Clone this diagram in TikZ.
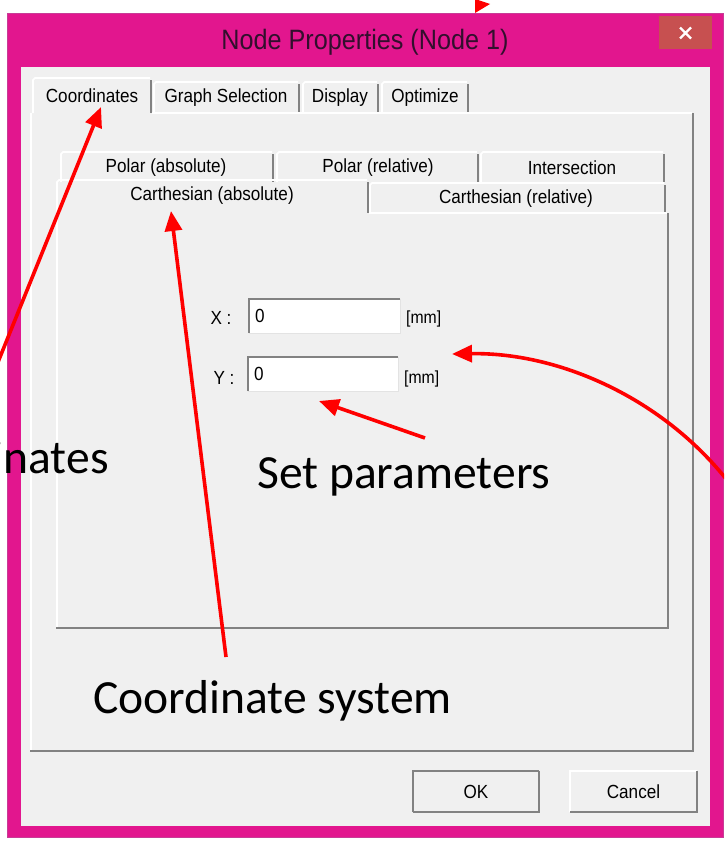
\documentclass[tikz,border=0pt]{standalone}
\usepackage{fontspec}
\usetikzlibrary{arrows.meta}
\newfontfamily\uifont[FakeStretch=0.9]{Liberation Sans}
\newfontfamily\notefont{Carlito}
\definecolor{framepink}{RGB}{226,22,142}
\definecolor{framepinkedge}{RGB}{200,60,150}
\definecolor{dlgbg}{RGB}{240,240,240}
\definecolor{closered}{RGB}{199,80,80}
\definecolor{shadowgray}{RGB}{130,130,130}
\definecolor{lightedge}{RGB}{227,227,227}
\definecolor{titleink}{RGB}{50,15,45}
\definecolor{noteRed}{RGB}{255,0,0}
\tikzset{
  hl/.style={white, line width=1.6pt},
  sh/.style={shadowgray, line width=2.4pt},
  uitext/.style={inner sep=0pt, font=\uifont\fontsize{19}{22}\selectfont, text=black},
  notetext/.style={inner sep=0pt, anchor=base west, font=\notefont\fontsize{47.6}{56}\selectfont, text=black},
  fieldbox/.style={fill=white, draw=none, inner sep=0pt},
  btnbox/.style={fill=dlgbg, inner sep=0pt},
  callout/.style={noteRed, line width=3.6pt, -{Triangle[length=20pt, width=17pt]}},
}
\begin{document}
\begin{tikzpicture}[x=1pt, y=-1pt]
\useasboundingbox (0,0) rectangle (724,846);
\clip (0,0) rectangle (724,846);
\fill[white] (0,0) rectangle (724,846);

% window frame and client area
\fill[framepink, draw=framepinkedge, line width=1pt] (7,13) rectangle (723,837);
\fill[dlgbg] (21,67) rectangle (710,826);

% title bar
\node[inner sep=0pt, text=titleink, font=\uifont\fontsize{28}{32}\selectfont] (title) at (365,42) {Node Properties (Node 1)};
\node[fill=closered, minimum width=53pt, minimum height=33pt, inner sep=0pt] (close) at (685.5,32.5) {};
\draw[white, line width=2.2pt] (680,27.5) -- (691,38.5) (680,38.5) -- (691,27.5);

% ---------- outer tab control ----------
% tabs: Graph Selection, Display, Optimize
\foreach \a/\b in {153/300, 302/379, 381/469}{
  \draw[hl] (\a+1,113) -- (\a+1,84) -- (\a+3,82) -- (\b-2,82);
  \draw[sh] (\b-1,84) -- (\b-1,113);
}
% selected tab: Coordinates
\draw[hl] (33,113) -- (33,80) -- (35,78) -- (150,78);
\draw[sh] (151,80) -- (151,113);
% page
\draw[hl] (152,113) -- (692,113);
\draw[hl] (31,113) -- (31,750);
\draw[sh] (693,113) -- (693,751) -- (30,751);

\node[uitext] (tabCoord) at (92,96) {Coordinates};
\node[uitext] (tabGraph) at (226,98) {Graph Selection};
\node[uitext] (tabDisp) at (340,98) {Display};
\node[uitext] (tabOpt) at (425,98) {Optimize};

% ---------- inner tab control ----------
% back row
\foreach \a/\b in {60/274, 276/479, 480/665}{
  \draw[hl] (\a+1,182) -- (\a+1,154) -- (\a+3,152) -- (\b-2,152);
  \draw[sh] (\b-1,154) -- (\b-1,182);
}
% front row: Carthesian (relative)
\draw[hl] (370,213) -- (370,185) -- (372,183) -- (664,183);
\draw[sh] (665,185) -- (665,213);
% selected: Carthesian (absolute)
\draw[hl] (57,213) -- (57,182) -- (59,180) -- (367,180);
\draw[sh] (368,182) -- (368,213);
% page
\draw[hl] (369,213) -- (667,213);
\draw[hl] (57,213) -- (57,627);
\draw[sh] (668,213) -- (668,628) -- (56,628);

\node[uitext] (tPolA) at (166,168) {Polar (absolute)};
\node[uitext] (tPolR) at (378,168) {Polar (relative)};
\node[uitext] (tInt) at (572,168) {Intersection};
\node[uitext] (tCarA) at (212,196) {Carthesian (absolute)};
\node[uitext] (tCarR) at (516,199) {Carthesian (relative)};

% ---------- coordinate fields ----------
\node[fieldbox, minimum width=151pt, minimum height=34pt] (fx) at (324.5,316) {};
\node[fieldbox, minimum width=150pt, minimum height=34pt] (fy) at (323,374) {};
\foreach \f in {fx, fy}{
  \draw[shadowgray, line width=2pt] (\f.south west) -- (\f.north west) -- (\f.north east);
  \draw[lightedge, line width=1.2pt] (\f.north east) -- (\f.south east) -- (\f.south west);
}
\node[uitext, anchor=west] (vx) at ([xshift=6pt]fx.west) {0};
\node[uitext, anchor=west] (vy) at ([xshift=6pt]fy.west) {0};
\node[uitext] (lx) at (221,318) {X :};
\node[uitext] (ly) at (224,378) {Y :};
\node[uitext, anchor=west, font=\uifont\fontsize{17.5}{20}\selectfont] (ux) at (406,319) {[mm]};
\node[uitext, anchor=west, font=\uifont\fontsize{17.5}{20}\selectfont] (uy) at (404,379) {[mm]};

% ---------- buttons ----------
\node[btnbox, minimum width=126pt, minimum height=41pt] (ok) at (476,791.5) {};
\node[btnbox, minimum width=127pt, minimum height=41pt] (cancel) at (633.5,791.5) {};
\foreach \b in {ok, cancel}{
  \draw[white, line width=1.6pt] (\b.south west) -- (\b.north west) -- (\b.north east);
  \draw[shadowgray, line width=2.4pt] (\b.north east) -- (\b.south east) -- (\b.south west);
}
\draw[shadowgray, line width=1.4pt] (ok.south west) -- (ok.north west) -- (ok.north east);
\node[uitext] (okt) at (ok) {OK};
\node[uitext] (cat) at (cancel) {Cancel};

% ---------- annotations ----------
\node[notetext] (nCoord) at (-124,473) {Coordinates};
\node[notetext] (nSet) at (257,488) {Set parameters};
\node[notetext] (nSys) at (93,713) {Coordinate system};

\coordinate (aCoordTail) at (-6,372);
\coordinate (aCoordTip) at (101,107);
\coordinate (aSetTail) at (425,438);
\coordinate (aSetTip) at (319,401);
\coordinate (aSysTail) at (226,657);
\coordinate (aSysTip) at (171,211);
\coordinate (aRightTail) at (745,505);
\coordinate (aRightTip) at (452,354);

\draw[callout] (aCoordTail) -- (aCoordTip);
\draw[callout] (aSetTail) -- (aSetTip);
\draw[callout] (aSysTail) -- (aSysTip);
\draw[callout] (aRightTail) .. controls (680,405) and (565,352) .. (aRightTip);

% arrow tip reaching in from above the frame
\fill[noteRed] (475,-1) -- (490,4) -- (475,13) -- cycle;
\end{tikzpicture}
\end{document}
